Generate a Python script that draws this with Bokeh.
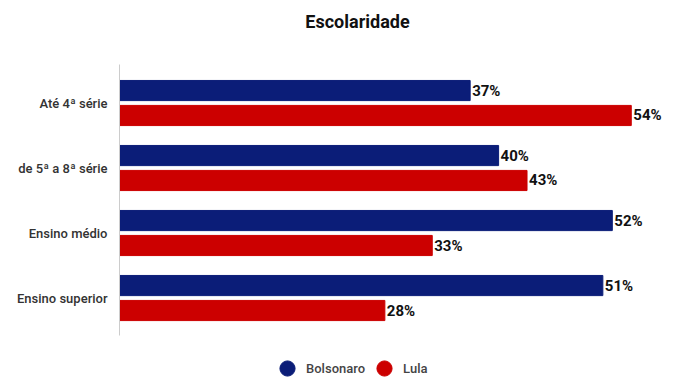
from bokeh.plotting import figure
from bokeh.models import (ColumnDataSource, Range1d, Label, Legend, LegendItem,
                          FixedTicker)
from bokeh.transform import dodge
from bokeh.core.properties import value
from bokeh.embed import file_html
from bokeh.resources import INLINE

title_text = "Escolaridade"
categories = ["Até 4ª série", "de 5ª a 8ª série", "Ensino médio", "Ensino superior"]
bolsonaro = [37, 40, 52, 51]
lula = [54, 43, 33, 28]
series_names = ["Bolsonaro", "Lula"]
colors = ["#0b1d78", "#cc0000"]

n = len(categories)
pos = [n - 1 - i for i in range(n)]

src = ColumnDataSource(dict(
    y=pos,
    bol=bolsonaro,
    lula=lula,
    bol_lbl=[f"{v}%" for v in bolsonaro],
    lula_lbl=[f"{v}%" for v in lula],
))

W, H = 669, 378
p = figure(width=W, height=H, x_range=Range1d(0, 57.4), y_range=Range1d(-1.238, 4.577),
           output_backend="svg", toolbar_location=None,
           min_border_left=119, min_border_right=6, min_border_top=0, min_border_bottom=0)

off = 0.192
bh = 0.31
p.hbar(y=dodge("y", off), right="bol", left=0, height=bh, color=colors[0], source=src)
p.hbar(y=dodge("y", -off), right="lula", left=0, height=bh, color=colors[1], source=src)

common = dict(text_font=value("Roboto"), text_font_size="15px", text_font_style="bold",
              text_color="#111111", text_baseline="middle", text_align="left", x_offset=2)
p.text(x="bol", y=dodge("y", off), text="bol_lbl", source=src, **common)
p.text(x="lula", y=dodge("y", -off), text="lula_lbl", source=src, **common)

p.xaxis.visible = False
p.xgrid.visible = False
p.ygrid.visible = False
p.outline_line_color = None
ax = p.yaxis[0]
ax.ticker = FixedTicker(ticks=pos)
ax.major_label_overrides = {k: c for k, c in zip(pos, categories)}
ax.bounds = (-0.577, n - 1 + 0.592)
ax.axis_line_color = "#cccccc"
ax.major_tick_line_color = None
ax.minor_tick_line_color = None
ax.major_label_standoff = 6
ax.major_label_text_font = "'Roboto Medium', Roboto"
ax.major_label_text_font_size = "13px"
ax.major_label_text_color = "#333333"

p.add_layout(Label(x=238, y=H - 21, x_units="screen", y_units="screen", text=title_text,
                   text_align="center", text_baseline="middle", text_font="Roboto",
                   text_font_size="18px", text_font_style="bold", text_color="#111111"))

nan = float("nan")
r1 = p.scatter(x=[nan], y=[nan], size=16, color=colors[0])
r2 = p.scatter(x=[nan], y=[nan], size=16, color=colors[1])
legend = Legend(items=[LegendItem(label=value(series_names[0]), renderers=[r1]),
                       LegendItem(label=value(series_names[1]), renderers=[r2])],
                location=(149, -10), orientation="horizontal",
                glyph_width=38, glyph_height=40, label_standoff=0, spacing=0,
                padding=0, margin=0, border_line_color=None, background_fill_alpha=0,
                label_text_font="'Roboto Medium', Roboto", label_text_font_size="13px",
                label_text_color="#444444")
p.add_layout(legend, "center")

open("out.html", "w").write(file_html(p, INLINE))
